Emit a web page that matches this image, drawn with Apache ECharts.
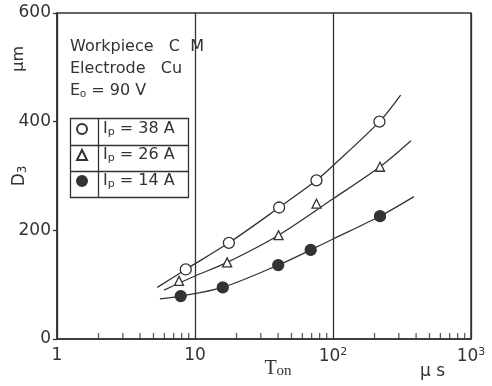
<!DOCTYPE html>
<html>
<head>
<meta charset="utf-8">
<script src="https://cdn.jsdelivr.net/npm/echarts@6/dist/echarts.min.js"></script>
<style>
  html, body { margin: 0; padding: 0; background: #fff; }
  #chart { width: 492px; height: 386px; }
</style>
</head>
<body>
<div id="chart"></div>
<script>
// measured points (Ton in µs, D3 in µm)
const ton38 = [8.57, 17.6, 40.7, 75.9, 217];
const d38 = [128, 177, 242, 292, 400];
const ton26 = [7.66, 17.1, 40.3, 75.9, 219];
const d26 = [107, 141, 191, 249, 317];
const ton14 = [7.88, 15.9, 40.1, 68.9, 219];
const d14 = [79, 95, 136, 164, 226];

// fitted curves
const fitTon38 = [5.33, 8.57, 17.6, 40.7, 75.9, 100, 217, 309];
const fitD38 = [95, 128, 177, 242, 292, 319, 400, 449];
const fitTon26 = [5.96, 10, 17.1, 40.3, 100, 219, 367];
const fitD26 = [90, 116, 141, 191, 258, 317, 365];
const fitTon14 = [5.57, 7.88, 15.9, 40.1, 68.9, 100, 219, 386];
const fitD14 = [74, 79, 95, 136, 164, 184, 226, 262];

const seriesNames = ["38", "26", "14"];
const xTickLabels = ["1", "10", "10{s|2}", "10{s|3}"];
const yTicks = [0, 200, 400, 600];
const minorTicks = [2, 3, 4, 5, 6, 7, 8, 9, 20, 30, 40, 50, 60, 70, 80, 90, 200, 300, 400, 500, 600, 700, 800, 900];

const ink = "#333";
const font = "DejaVu Sans";

const zip = (xs, ys) => xs.map((x, i) => [x, ys[i]]);

const chart = echarts.init(document.getElementById("chart"));

const curve = (name, xs, ys) => ({
  name: name,
  type: "line",
  data: zip(xs, ys),
  smooth: 0.3,
  showSymbol: false,
  lineStyle: { color: ink, width: 1.3 },
  silent: true,
  z: 2,
});

const markers = (name, xs, ys, symbol, size, fill) => ({
  name: name,
  type: "scatter",
  data: zip(xs, ys),
  symbol: symbol,
  symbolSize: size,
  itemStyle: { color: fill, borderColor: ink, borderWidth: 1.3, opacity: 1 },
  z: 3,
});

chart.setOption({
  backgroundColor: "#fff",
  animation: false,
  textStyle: { fontFamily: font, color: ink },
  grid: {
    left: 57,
    right: 21,
    top: 13,
    bottom: 47,
    outerBoundsMode: "none",
    show: true,
    borderColor: ink,
    borderWidth: 1.5,
    backgroundColor: "transparent",
  },
  legend: {
    orient: "vertical",
    left: 76,
    top: 120,
    padding: 0,
    itemWidth: 10,
    itemHeight: 10,
    itemGap: 8,
    data: seriesNames.map((n) => "Ip" + n),
    formatter: (name) => "I{p|p} = " + name.slice(2) + " A",
    textStyle: {
      fontFamily: font,
      fontSize: 16,
      color: ink,
      lineHeight: 18,
      padding: [0, 0, 0, 11],
      rich: {
        p: { fontSize: 11, verticalAlign: "bottom", padding: [4, 0, 0, 0] },
      },
    },
  },
  xAxis: {
    type: "log",
    logBase: 10,
    min: 1,
    max: 1000,
    name: "T{sub|on}",
    nameLocation: "middle",
    nameGap: 19,
    nameMoveOverlap: false,
    nameTextStyle: {
      fontFamily: "Liberation Serif",
      fontSize: 20,
      color: ink,
      padding: [0, 0, 0, 28],
      rich: {
        sub: { fontFamily: "Liberation Serif", fontSize: 15, padding: [6, 0, 0, 0] },
      },
    },
    axisLine: { show: true, lineStyle: { color: ink, width: 1.5 } },
    axisTick: { show: false },
    splitLine: { show: true, lineStyle: { color: ink, width: 1.3 } },
    axisLabel: {
      margin: 8,
      fontSize: 17,
      color: ink,
      formatter: (v) => xTickLabels[Math.round(Math.log10(v))],
      rich: { s: { fontSize: 11, verticalAlign: "top", padding: [0, 0, 8, 0] } },
    },
  },
  yAxis: {
    type: "value",
    min: yTicks[0],
    max: yTicks[yTicks.length - 1],
    interval: 200,
    name: "D{sub|3}",
    nameLocation: "middle",
    nameGap: 28,
    nameMoveOverlap: false,
    nameTextStyle: {
      fontSize: 17,
      color: ink,
      rich: { sub: { fontSize: 12, padding: [6, 0, 0, 0] } },
    },
    axisLine: { show: true, lineStyle: { color: ink, width: 1.5 } },
    axisTick: { show: true, inside: false, length: 4, lineStyle: { color: ink, width: 1.3 } },
    splitLine: { show: false },
    axisLabel: { margin: 6, fontSize: 17, color: ink },
  },
  graphic: [
    {
      type: "text",
      left: 70,
      top: 39,
      style: { text: "Workpiece   C  M", font: "16px " + font, fill: ink },
    },
    {
      type: "text",
      left: 70,
      top: 61,
      style: { text: "Electrode   Cu", font: "16px " + font, fill: ink },
    },
    {
      type: "text",
      left: 70,
      top: 83,
      style: {
        text: "E{o|o} = 90 V",
        font: "16px " + font,
        fill: ink,
        rich: { o: { fontSize: 11, padding: [5, 0, 0, 0] } },
      },
    },
    {
      type: "group",
      left: 68,
      top: 116,
      children: [
        { type: "rect", shape: { x: 0, y: 0, width: 118, height: 79 }, style: { fill: "none", stroke: ink, lineWidth: 1.3 } },
        { type: "line", shape: { x1: 28, y1: 0, x2: 28, y2: 79 }, style: { stroke: ink, lineWidth: 1.3 } },
        { type: "line", shape: { x1: 0, y1: 27, x2: 118, y2: 27 }, style: { stroke: ink, lineWidth: 1.3 } },
        { type: "line", shape: { x1: 0, y1: 53, x2: 118, y2: 53 }, style: { stroke: ink, lineWidth: 1.3 } },
      ],
    },
    {
      type: "text",
      left: 11,
      top: 46,
      rotation: Math.PI / 2,
      originX: 0,
      originY: 0,
      style: { text: "μm", font: "16px " + font, fill: ink },
    },
    {
      type: "text",
      left: 420,
      top: 363,
      style: { text: "μ s", font: "17px " + font, fill: ink },
    },
  ],
  series: [
    curve("c38", fitTon38, fitD38),
    curve("c26", fitTon26, fitD26),
    curve("c14", fitTon14, fitD14),
    markers("Ip38", ton38, d38, "circle", 11, "#fff"),
    markers("Ip26", ton26, d26, "triangle", 9, "#fff"),
    markers("Ip14", ton14, d14, "circle", 11, ink),
    {
      name: "minor",
      type: "scatter",
      data: minorTicks.map((t) => [t, 0]),
      symbol: "rect",
      symbolSize: [1.3, 6],
      symbolOffset: [0, -3],
      itemStyle: { color: ink },
      silent: true,
      clip: false,
      z: 1,
    },
  ],
});
</script>
</body>
</html>
